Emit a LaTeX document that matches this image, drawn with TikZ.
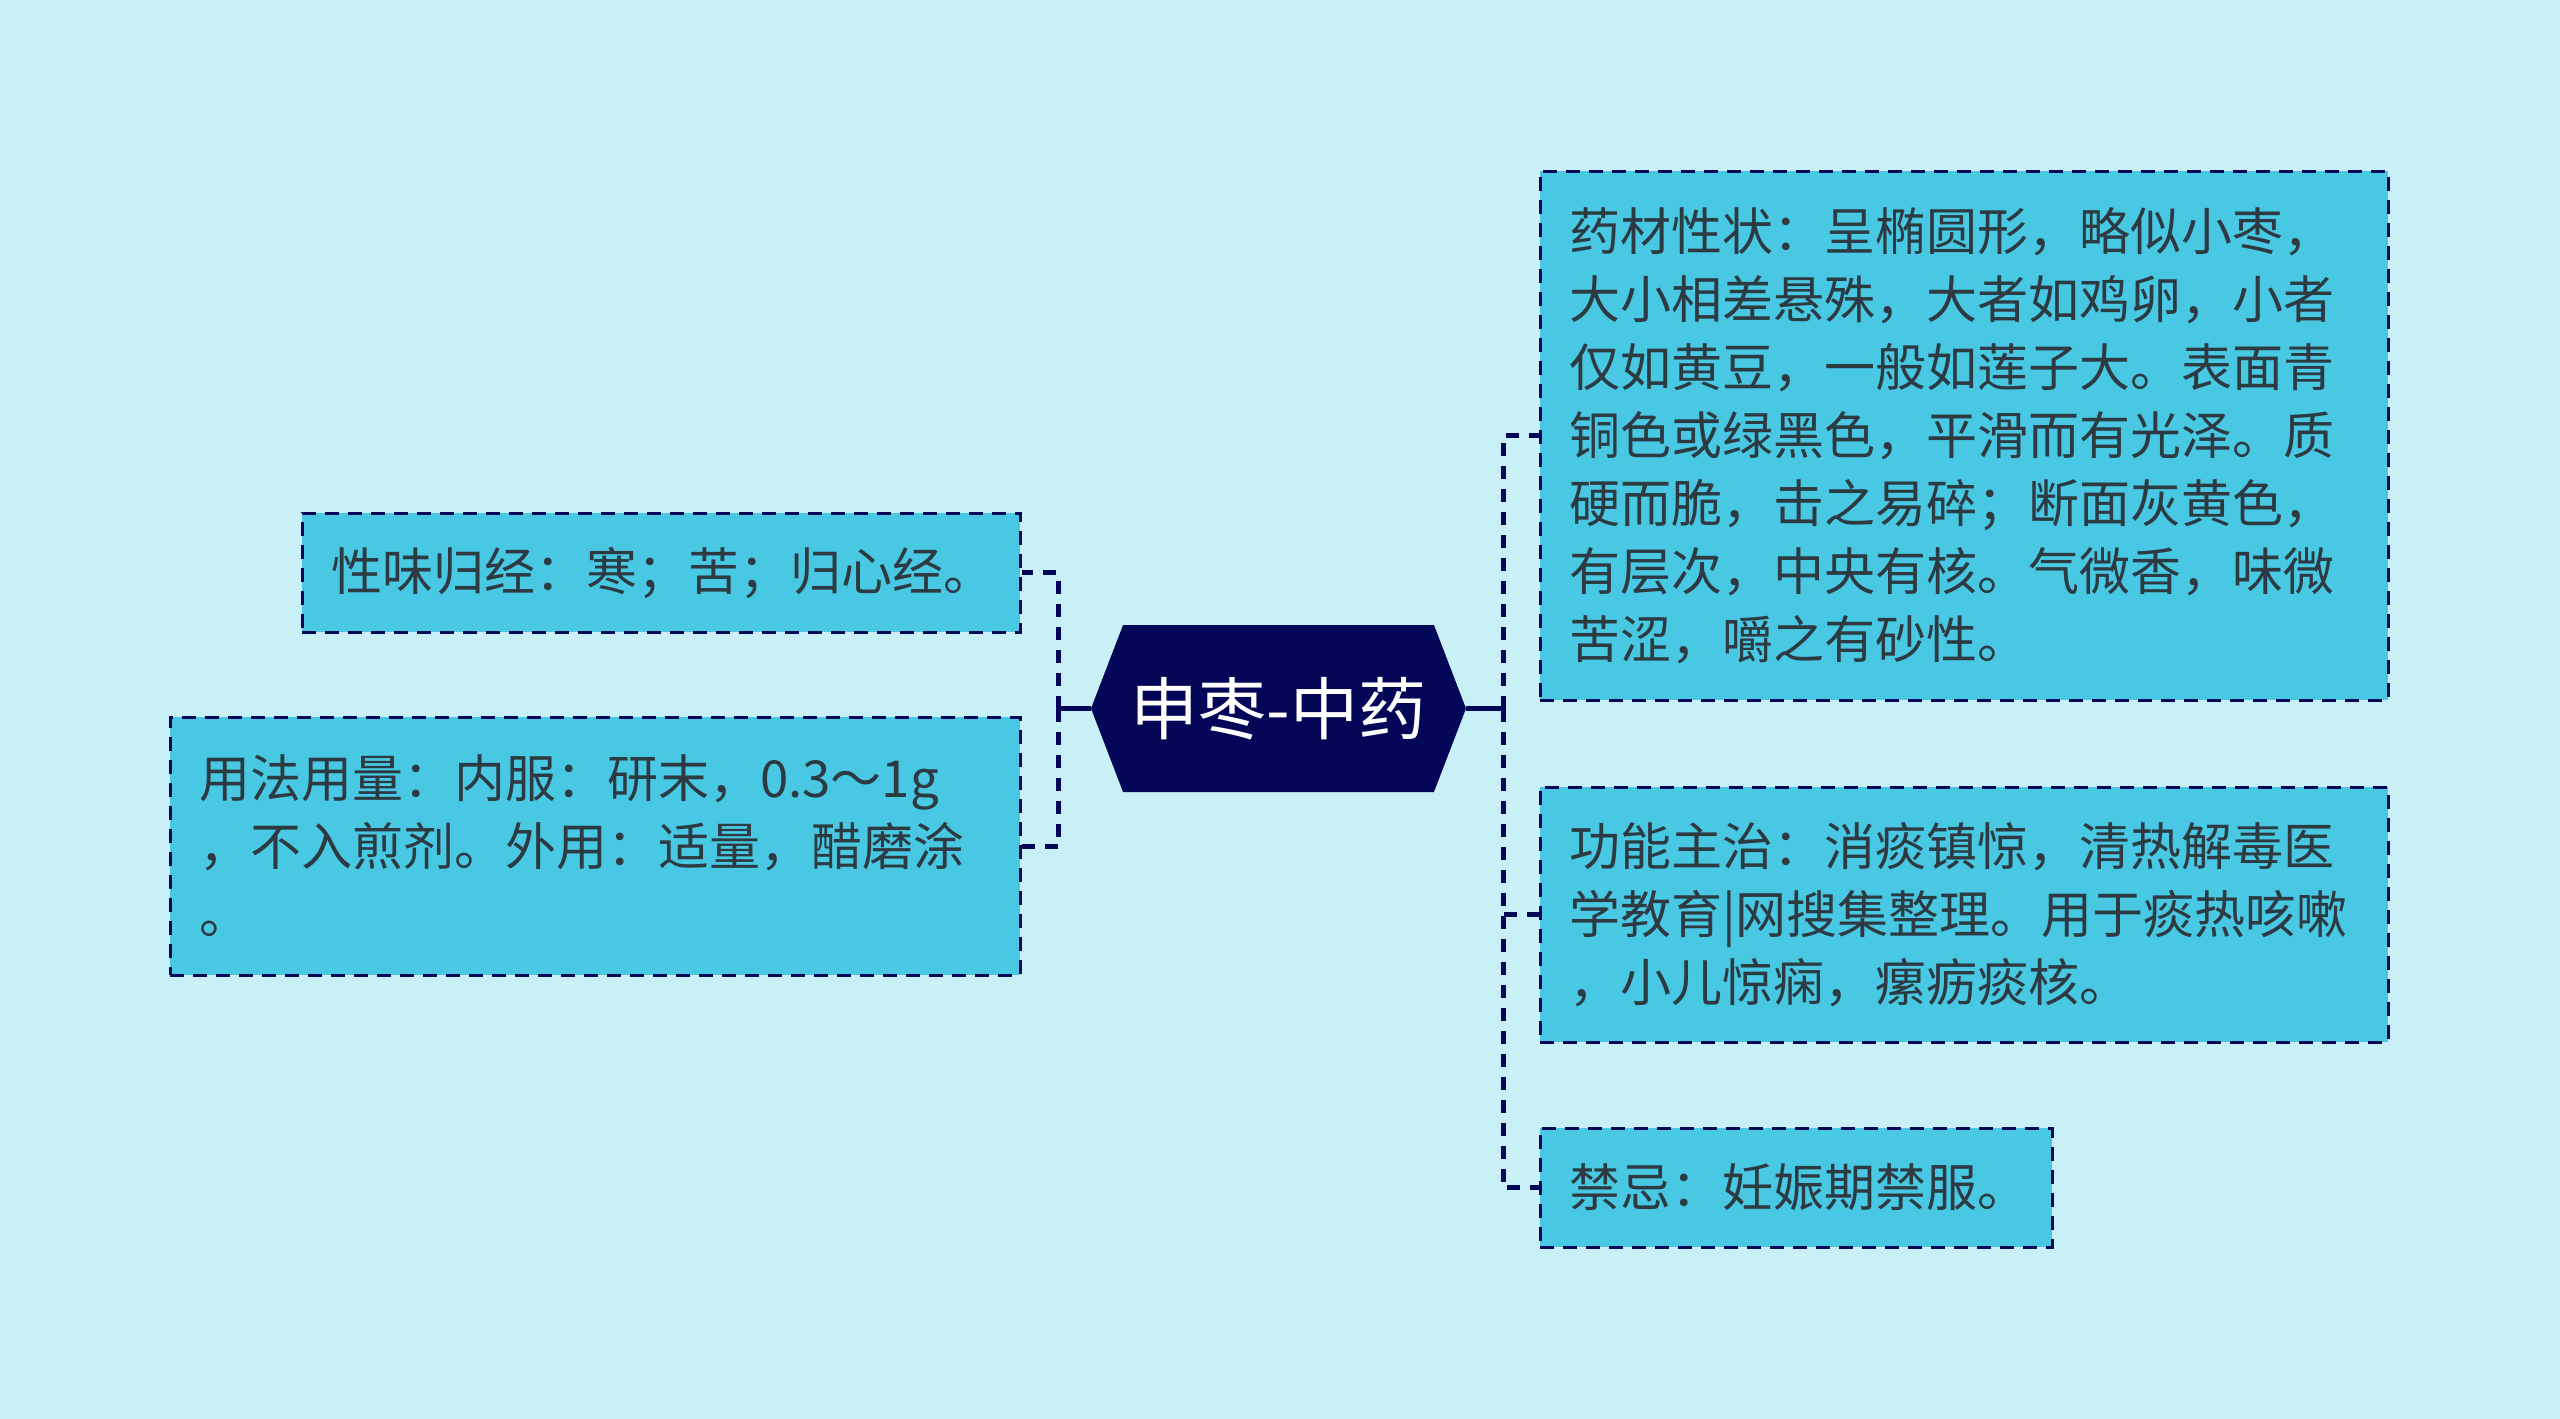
\documentclass[tikz,border=0pt]{standalone}
\usepackage{fontspec}
\setmainfont{Noto Sans CJK SC}
\usetikzlibrary{shapes.symbols}

\definecolor{bgblue}{RGB}{201,240,247}
\definecolor{boxblue}{RGB}{72,200,227}
\definecolor{navy}{RGB}{4,7,88}
\definecolor{textgray}{RGB}{45,58,66}

\tikzset{
    topic/.style={signal, signal to=east and west, signal pointer angle=138,
        fill=navy, text=white, inner sep=0pt,
        minimum width=187.5pt, minimum height=83.5pt,
        font=\fontsize{34}{40}\selectfont},
    leaf/.style={draw=navy, fill=boxblue, line width=1.5pt,
        dash pattern=on 7pt off 4.5pt, inner xsep=14.5pt, inner ysep=0pt,
        text=textgray, align=left, font=\fontsize{25.5}{34}\selectfont},
    trunk/.style={navy, line width=2.5pt},
    branch/.style={navy, line width=2.5pt, dash pattern=on 6.5pt off 5pt}
}

\begin{document}
\begin{tikzpicture}[x=0.5pt, y=-0.5pt]
    \fill[bgblue] (0,0) rectangle (2560,1419);

    \node[topic] (root) at (1278.5,708.5) {申枣-中药};

    \node[leaf, text width=330pt, minimum height=59.5pt] (xingwei) at (661,572.5)
        {性味归经：寒；苦；归心经。};
    \node[leaf, text width=396pt, minimum height=129pt] (yongfa) at (595,846)
        {用法用量：内服：研末，0.3～1g\\，不入煎剂。外用：适量，醋磨涂\\。};
    \node[leaf, text width=395pt, minimum height=264.5pt] (xingzhuang) at (1964,435.5)
        {药材性状：呈椭圆形，略似小枣，\\大小相差悬殊，大者如鸡卵，小者\\仅如黄豆，一般如莲子大。表面青\\铜色或绿黑色，平滑而有光泽。质\\硬而脆，击之易碎；断面灰黄色，\\有层次，中央有核。气微香，味微\\苦涩，嚼之有砂性。};
    \node[leaf, text width=395pt, minimum height=127.5pt] (gongneng) at (1964,914.5)
        {功能主治：消痰镇惊，清热解毒医\\学教育|网搜集整理。用于痰热咳嗽\\，小儿惊痫，瘰疬痰核。};
    \node[leaf, text width=227pt, minimum height=59.5pt] (jinji) at (1796,1187.5)
        {禁忌：妊娠期禁服。};

    \coordinate (ljoin) at (1058,708.5);
    \coordinate (rjoin) at (1503,708.5);

    \draw[trunk] (root.west) -- (ljoin);
    \draw[trunk] (root.east) -- (rjoin);

    \draw[branch] (ljoin) |- (xingwei.east);
    \draw[branch] (ljoin) |- (yongfa.east);
    \draw[branch] (rjoin) |- (xingzhuang.west);
    \draw[branch] (rjoin) |- (gongneng.west);
    \draw[branch] (rjoin) |- (jinji.west);
\end{tikzpicture}
\end{document}
